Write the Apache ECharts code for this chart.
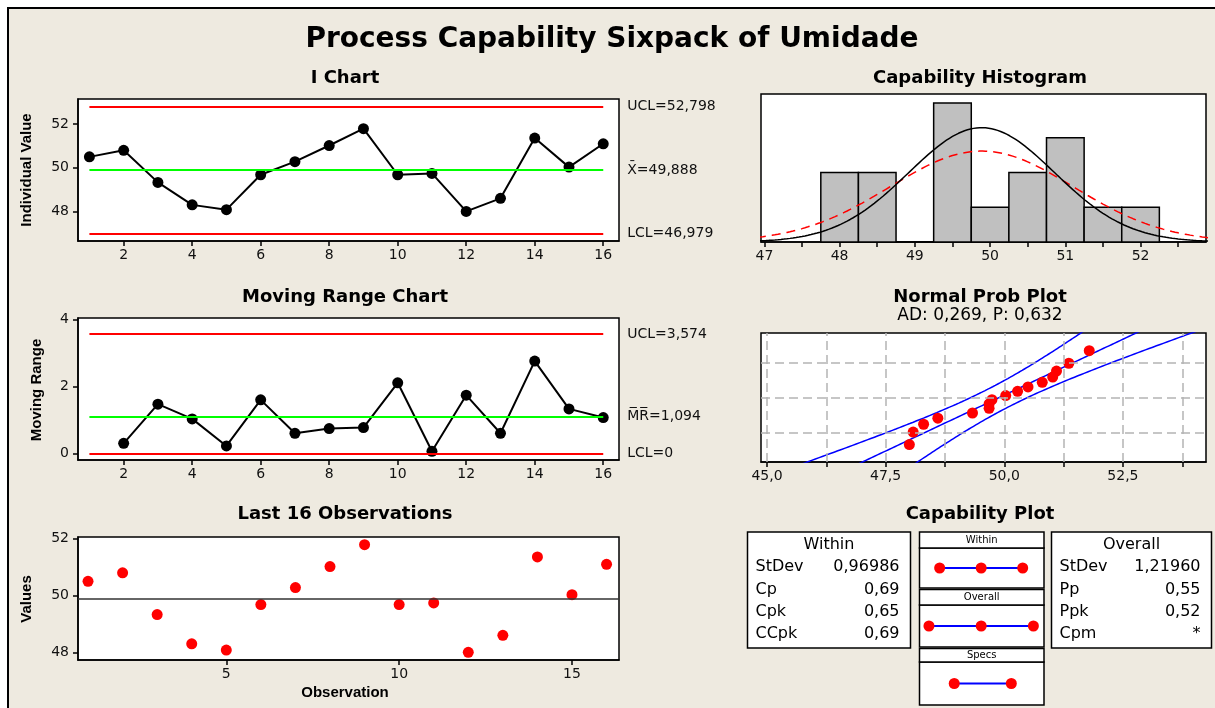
<!DOCTYPE html>
<html>
<head>
<meta charset="utf-8">
<script src="https://cdn.jsdelivr.net/npm/echarts@6/dist/echarts.min.js"></script>
<style>
  html, body { margin: 0; padding: 0; background: #ffffff; }
  #chart { width: 1215px; height: 708px; }
</style>
</head>
<body>
<div id="chart"></div>
<script>
// ---- data ----
const observations = [1, 2, 3, 4, 5, 6, 7, 8, 9, 10, 11, 12, 13, 14, 15, 16];
const umidade = [50.50, 50.80, 49.33, 48.30, 48.08, 49.68, 50.28, 51.02,
                 51.79, 49.68, 49.74, 48.00, 48.60, 51.36, 50.03, 51.10];

const iChartLimits = { lcl: 46.979, center: 49.888, ucl: 52.798 };
const mrChartLimits = { lcl: 0, center: 1.094, ucl: 3.574 };

const stdevWithin = 0.96986;
const stdevOverall = 1.21960;
const specLimits = [48, 52];

const withinNames = ['StDev', 'Cp', 'Cpk', 'CCpk'];
const withinValues = ['0,96986', '0,69', '0,65', '0,69'];
const overallNames = ['StDev', 'Pp', 'Ppk', 'Cpm'];
const overallValues = ['1,21960', '0,55', '0,52', '*'];

const adStatistic = 0.269;
const pValue = 0.632;

const histBinStart = 47.75;
const histBinWidth = 0.5;
const histBinCount = 9;

const probGridPercents = [10, 50, 90];

// ---- helpers ----
const comma = (v, d) => v.toFixed(d).replace('.', ',');
const mean = iChartLimits.center;
const n = umidade.length;

function normPdf(x, mu, s) {
  const z = (x - mu) / s;
  return Math.exp(-0.5 * z * z) / (s * Math.sqrt(2 * Math.PI));
}
function invNorm(p) {
  const a = [-3.969683028665376e+01, 2.209460984245205e+02, -2.759285104469687e+02, 1.383577518672690e+02, -3.066479806614716e+01, 2.506628277459239e+00];
  const b = [-5.447609879822406e+01, 1.615858368580409e+02, -1.556989798598866e+02, 6.680131188771972e+01, -1.328068155288572e+01];
  const c = [-7.784894002430293e-03, -3.223964580411365e-01, -2.400758277161838e+00, -2.549732539343734e+00, 4.374664141464968e+00, 2.938163982698783e+00];
  const d = [7.784695709041462e-03, 3.224671290700398e-01, 2.445134137142996e+00, 3.754408661907416e+00];
  const pl = 0.02425, ph = 1 - pl;
  let q, r;
  if (p < pl) {
    q = Math.sqrt(-2 * Math.log(p));
    return (((((c[0]*q+c[1])*q+c[2])*q+c[3])*q+c[4])*q+c[5]) / ((((d[0]*q+d[1])*q+d[2])*q+d[3])*q+1);
  }
  if (p > ph) {
    q = Math.sqrt(-2 * Math.log(1 - p));
    return -(((((c[0]*q+c[1])*q+c[2])*q+c[3])*q+c[4])*q+c[5]) / ((((d[0]*q+d[1])*q+d[2])*q+d[3])*q+1);
  }
  q = p - 0.5; r = q * q;
  return (((((a[0]*r+a[1])*r+a[2])*r+a[3])*r+a[4])*r+a[5])*q / (((((b[0]*r+b[1])*r+b[2])*r+b[3])*r+b[4])*r+1);
}

// individual values and moving ranges
const iData = observations.map((o, i) => [o, umidade[i]]);
const mrData = observations.slice(1).map((o, i) => [o, Math.abs(umidade[i + 1] - umidade[i])]);

// histogram counts
const histBins = [];
for (let k = 0; k < histBinCount; k++) {
  const lo = histBinStart + k * histBinWidth, hi = lo + histBinWidth;
  const cnt = umidade.filter(v => v >= lo && v < hi).length;
  histBins.push([lo, hi, cnt]);
}
const curveWithin = [], curveOverall = [];
for (let x = 46.90; x <= 52.95; x += 0.02) {
  curveWithin.push([x, n * histBinWidth * normPdf(x, mean, stdevWithin)]);
  curveOverall.push([x, n * histBinWidth * normPdf(x, mean, stdevOverall)]);
}

// normal probability plot
const sorted = umidade.slice().sort((a, b) => a - b);
const probPoints = sorted.map((v, i) => [v, invNorm((i + 1 - 0.3) / (n + 0.4))]);
const fitLine = [], bandLow = [], bandHigh = [];
for (let z = -2.8; z <= 2.8001; z += 0.05) {
  const c = mean + z * stdevOverall;
  const h = 1.96 * stdevOverall / Math.sqrt(n) * Math.sqrt(1 + z * z / 2);
  fitLine.push([c, z]);
  bandLow.push([c - h, z]);
  bandHigh.push([c + h, z]);
}
const probGridX = [45, 46.25, 47.5, 48.75, 50, 51.25, 52.5, 53.75];
const probGridZ = probGridPercents.map(p => invNorm(p / 100));

// capability intervals
const withinSpan = [[mean - 3 * stdevWithin, 1], [mean, 1], [mean + 3 * stdevWithin, 1]];
const overallSpan = [[mean - 3 * stdevOverall, 1], [mean, 1], [mean + 3 * stdevOverall, 1]];
const specSpan = specLimits.map(v => [v, 1]);

// ---- styling ----
const FONT = 'DejaVu Sans';
const BG = '#EEEAE0';
const tickStyle = { show: true, length: 5, lineStyle: { color: '#000', width: 1.5 } };
const labelStyle = { color: '#111', fontSize: 14, fontFamily: FONT };

function xAxisCfg(grid, min, max, ticks, fmt, opts) {
  return Object.assign({
    gridIndex: grid, type: 'value', min, max,
    axisLine: { show: true, onZero: false, lineStyle: { color: '#000', width: 1.5 } },
    axisTick: Object.assign({ customValues: ticks }, tickStyle),
    axisLabel: Object.assign({ customValues: ticks, margin: 7, formatter: fmt || (v => String(v)) }, labelStyle),
    splitLine: { show: false }
  }, opts || {});
}
function yAxisCfg(grid, min, max, ticks) {
  return {
    gridIndex: grid, type: 'value', min, max,
    axisLine: { show: true, onZero: false, lineStyle: { color: '#000', width: 1.5 } },
    axisTick: Object.assign({ customValues: ticks }, tickStyle),
    axisLabel: Object.assign({ customValues: ticks, margin: 9 }, labelStyle),
    splitLine: { show: false }
  };
}
function hiddenAxis(grid, min, max) {
  return {
    gridIndex: grid, type: 'value', min, max,
    axisLine: { show: false }, axisTick: { show: false },
    axisLabel: { show: false }, splitLine: { show: false }
  };
}
function limitLine(x0, x1, y, color, text) {
  return [
    { coord: [x0, y], lineStyle: { color, width: 2, type: 'solid' }, label: { formatter: text } },
    { coord: [x1, y] }
  ];
}
const limitLabel = { show: true, position: 'end', distance: 24, color: '#111', fontSize: 14, fontFamily: FONT };

const gridBox = { show: true, backgroundColor: '#fff', borderColor: '#000', borderWidth: 1.5 };

// ---- text and frames ----
function txt(x, y, text, font, align, extra) {
  return Object.assign({
    type: 'text', x, y, silent: true,
    style: { text, font, fill: '#000', align: align || 'center', verticalAlign: 'middle' }
  }, extra || {});
}
const boldTitle = 'bold 18px "DejaVu Sans"';
const axisNameFont = 'bold 15px "Liberation Sans"';
const graphics = [
  { type: 'rect', z: -100, silent: true, shape: { x: 8, y: 8, width: 1240, height: 740 },
    style: { fill: BG, stroke: '#000', lineWidth: 2 } },
  txt(612, 40, 'Process Capability Sixpack of Umidade', 'bold 28px "DejaVu Sans"'),
  txt(345, 78, 'I Chart', boldTitle),
  txt(345, 297, 'Moving Range Chart', boldTitle),
  txt(345, 514, 'Last 16 Observations', boldTitle),
  txt(980, 78, 'Capability Histogram', boldTitle),
  txt(980, 297, 'Normal Prob Plot', boldTitle),
  txt(980, 316, 'AD: ' + comma(adStatistic, 3) + ', P: ' + comma(pValue, 3), '17px "DejaVu Sans"'),
  txt(980, 514, 'Capability Plot', boldTitle),
  txt(27, 170, 'Individual Value', axisNameFont, 'center', { rotation: Math.PI / 2 }),
  txt(37, 390, 'Moving Range', axisNameFont, 'center', { rotation: Math.PI / 2 }),
  txt(27, 599, 'Values', axisNameFont, 'center', { rotation: Math.PI / 2 }),
  txt(345, 693, 'Observation', axisNameFont)
];

// statistics tables
function statTable(x, w, title, names, values) {
  const els = [
    { type: 'rect', silent: true, shape: { x, y: 532, width: w, height: 116 },
      style: { fill: '#fff', stroke: '#000', lineWidth: 1.5 } },
    txt(x + w / 2, 545, title, '16px "DejaVu Sans"')
  ];
  const rowsY = [567, 589.5, 611.5, 633.5];
  names.forEach((nm, i) => {
    els.push(txt(x + 8, rowsY[i], nm, '16px "DejaVu Sans"', 'left'));
    els.push(txt(x + w - 11, rowsY[i], values[i], '16px "DejaVu Sans"', 'right'));
  });
  return els;
}
graphics.push(...statTable(747.5, 163, 'Within', withinNames, withinValues));
graphics.push(...statTable(1051.5, 160, 'Overall', overallNames, overallValues));

// headers of the interval panels
const panelHeaders = [['Within', 532, 548], ['Overall', 589.5, 605], ['Specs', 648.5, 662]];
panelHeaders.forEach(([t, y0, y1]) => {
  graphics.push({ type: 'rect', silent: true, shape: { x: 919.5, y: y0, width: 124.5, height: y1 - y0 },
    style: { fill: '#fff', stroke: '#000', lineWidth: 1.5 } });
  graphics.push(txt(981.7, (y0 + y1) / 2, t, '10px "DejaVu Sans"'));
});

// ---- chart ----
const chart = echarts.init(document.getElementById('chart'), null, { renderer: 'canvas' });
const capMin = 45.566, capMax = 54.29;

const option = {
  backgroundColor: '#ffffff',
  animation: false,
  textStyle: { fontFamily: FONT },
  grid: [
    Object.assign({ left: 78, top: 99, width: 541, height: 142 }, gridBox),
    Object.assign({ left: 78, top: 318, width: 541, height: 142 }, gridBox),
    Object.assign({ left: 78, top: 537, width: 541, height: 123 }, gridBox),
    Object.assign({ left: 761, top: 94, width: 445, height: 148 }, gridBox),
    Object.assign({ left: 761, top: 333, width: 445, height: 129 }, gridBox),
    Object.assign({ left: 919.5, top: 548, width: 124.5, height: 40 }, gridBox),
    Object.assign({ left: 919.5, top: 605, width: 124.5, height: 42 }, gridBox),
    Object.assign({ left: 919.5, top: 662, width: 124.5, height: 43 }, gridBox)
  ],
  xAxis: [
    xAxisCfg(0, 0.667, 16.46, [2, 4, 6, 8, 10, 12, 14, 16]),
    xAxisCfg(1, 0.667, 16.46, [2, 4, 6, 8, 10, 12, 14, 16]),
    xAxisCfg(2, 0.71, 16.36, [5, 10, 15]),
    Object.assign(xAxisCfg(3, 46.955, 52.87, [47, 47.5, 48, 48.5, 49, 49.5, 50, 50.5, 51, 51.5, 52, 52.5]),
      { axisLabel: Object.assign({ customValues: [47, 48, 49, 50, 51, 52], margin: 7 }, labelStyle) }),
    Object.assign(xAxisCfg(4, 44.874, 54.25, probGridX),
      { axisLabel: Object.assign({ customValues: [45, 47.5, 50, 52.5], margin: 7, formatter: v => comma(v, 1) }, labelStyle) }),
    hiddenAxis(5, capMin, capMax),
    hiddenAxis(6, capMin, capMax),
    hiddenAxis(7, capMin, capMax)
  ],
  yAxis: [
    yAxisCfg(0, 46.644, 53.152, [48, 50, 52]),
    yAxisCfg(1, -0.2, 4.05, [0, 2, 4]),
    yAxisCfg(2, 47.73, 52.06, [48, 50, 52]),
    hiddenAxis(3, 0, 4.26),
    hiddenAxis(4, -2.36, 2.37),
    hiddenAxis(5, 0, 2),
    hiddenAxis(6, 0, 2),
    hiddenAxis(7, 0, 2)
  ],
  series: [
    // I chart
    {
      type: 'line', xAxisIndex: 0, yAxisIndex: 0, data: iData,
      symbol: 'circle', symbolSize: 11,
      lineStyle: { color: '#000', width: 2 }, itemStyle: { color: '#000' },
      markLine: {
        silent: true, symbol: 'none', label: limitLabel,
        data: [
          limitLine(1, 16, iChartLimits.ucl, '#ff0000', 'UCL=' + comma(iChartLimits.ucl, 3)),
          limitLine(1, 16, iChartLimits.center, '#00ff00', 'X\u0304=' + comma(iChartLimits.center, 3)),
          limitLine(1, 16, iChartLimits.lcl, '#ff0000', 'LCL=' + comma(iChartLimits.lcl, 3))
        ]
      },
      z: 3
    },
    // moving range chart
    {
      type: 'line', xAxisIndex: 1, yAxisIndex: 1, data: mrData,
      symbol: 'circle', symbolSize: 11,
      lineStyle: { color: '#000', width: 2 }, itemStyle: { color: '#000' },
      markLine: {
        silent: true, symbol: 'none', label: limitLabel,
        data: [
          limitLine(1, 16, mrChartLimits.ucl, '#ff0000', 'UCL=' + comma(mrChartLimits.ucl, 3)),
          limitLine(1, 16, mrChartLimits.center, '#00ff00', 'M\u0305R\u0305=' + comma(mrChartLimits.center, 3)),
          limitLine(1, 16, mrChartLimits.lcl, '#ff0000', 'LCL=' + mrChartLimits.lcl)
        ]
      },
      z: 3
    },
    // last 16 observations
    {
      type: 'scatter', xAxisIndex: 2, yAxisIndex: 2, data: iData,
      symbol: 'circle', symbolSize: 11, itemStyle: { color: '#ff0000', opacity: 1 },
      markLine: {
        silent: true, symbol: 'none', label: { show: false },
        lineStyle: { color: '#333', width: 1.5, type: 'solid' },
        data: [{ yAxis: mean }]
      },
      z: 3
    },
    // capability histogram
    {
      type: 'custom', xAxisIndex: 3, yAxisIndex: 3, data: histBins,
      renderItem: (params, api) => {
        const p0 = api.coord([api.value(0), api.value(2)]);
        const p1 = api.coord([api.value(1), 0]);
        return {
          type: 'rect',
          shape: { x: p0[0], y: p0[1], width: p1[0] - p0[0], height: p1[1] - p0[1] },
          style: { fill: '#c0c0c0', stroke: '#000', lineWidth: 1.5 }
        };
      },
      z: 2
    },
    {
      type: 'line', xAxisIndex: 3, yAxisIndex: 3, data: curveOverall, showSymbol: false,
      lineStyle: { color: '#ff0000', width: 1.5, type: [9, 6] }, z: 3
    },
    {
      type: 'line', xAxisIndex: 3, yAxisIndex: 3, data: curveWithin, showSymbol: false,
      lineStyle: { color: '#000', width: 1.5 }, z: 4
    },
    // normal probability plot
    {
      type: 'line', xAxisIndex: 4, yAxisIndex: 4, data: fitLine, showSymbol: false,
      lineStyle: { color: '#0000ff', width: 1.5 },
      markLine: {
        silent: true, symbol: 'none', label: { show: false },
        lineStyle: { color: '#b4b4b4', width: 1.5, type: [9, 5] },
        data: probGridX.map(v => ({ xAxis: v })).concat(probGridZ.map(z => ({ yAxis: z })))
      },
      z: 3
    },
    {
      type: 'line', xAxisIndex: 4, yAxisIndex: 4, data: bandLow, showSymbol: false,
      lineStyle: { color: '#0000ff', width: 1.5 }, z: 3
    },
    {
      type: 'line', xAxisIndex: 4, yAxisIndex: 4, data: bandHigh, showSymbol: false,
      lineStyle: { color: '#0000ff', width: 1.5 }, z: 3
    },
    {
      type: 'scatter', xAxisIndex: 4, yAxisIndex: 4, data: probPoints,
      symbol: 'circle', symbolSize: 11, itemStyle: { color: '#ff0000', opacity: 1 }, z: 4
    },
    // capability intervals
    {
      type: 'line', xAxisIndex: 5, yAxisIndex: 5, data: withinSpan,
      symbol: 'circle', symbolSize: 11, itemStyle: { color: '#ff0000' },
      lineStyle: { color: '#0000ff', width: 2 }
    },
    {
      type: 'line', xAxisIndex: 6, yAxisIndex: 6, data: overallSpan,
      symbol: 'circle', symbolSize: 11, itemStyle: { color: '#ff0000' },
      lineStyle: { color: '#0000ff', width: 2 }
    },
    {
      type: 'line', xAxisIndex: 7, yAxisIndex: 7, data: specSpan,
      symbol: 'circle', symbolSize: 11, itemStyle: { color: '#ff0000' },
      lineStyle: { color: '#0000ff', width: 2 }
    }
  ],
  graphic: graphics
};
chart.setOption(option);
</script>
</body>
</html>
